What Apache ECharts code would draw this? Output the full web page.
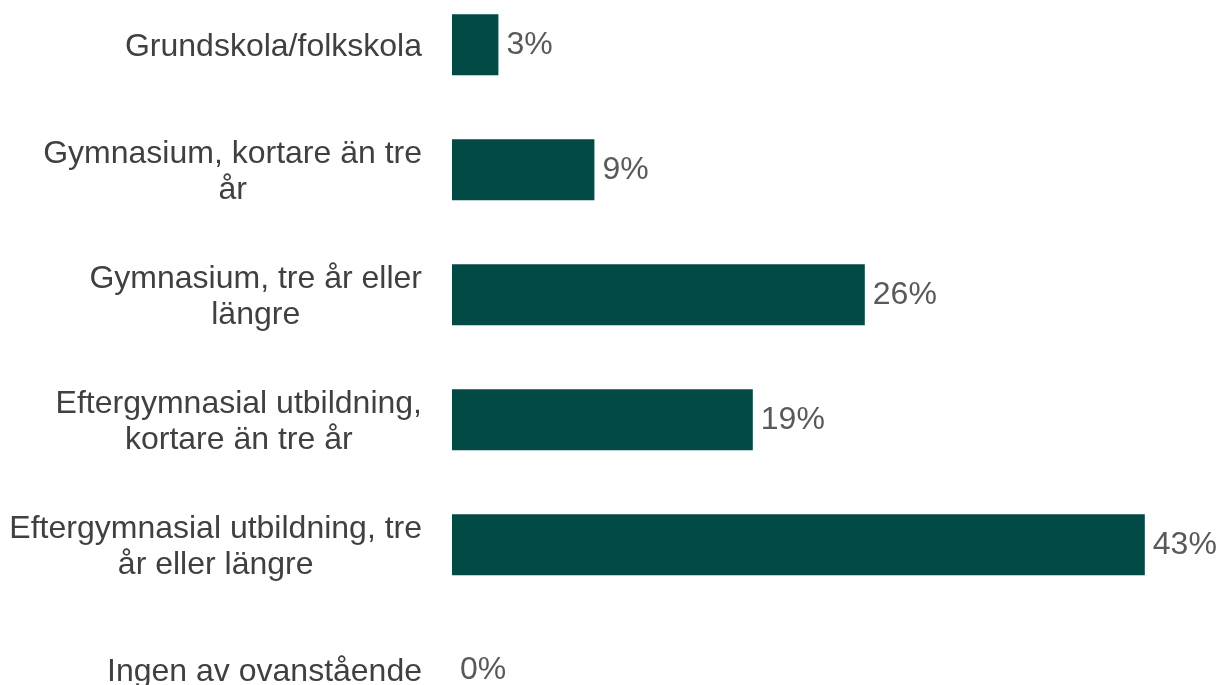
<!DOCTYPE html>
<html>
<head>
<meta charset="utf-8">
<script src="https://cdn.jsdelivr.net/npm/echarts@6/dist/echarts.min.js"></script>
<style>
  html, body { margin: 0; padding: 0; background: #fff; }
  #chart { width: 1222px; height: 685px; }
</style>
</head>
<body>
<div id="chart"></div>
<script>
// utbildningsnivå (kategorier uppifrån och ned)
const categories = [
  "Grundskola/folkskola",
  "Gymnasium, kortare än tre\når",
  "Gymnasium, tre år eller\nlängre",
  "Eftergymnasial utbildning,\nkortare än tre år",
  "Eftergymnasial utbildning, tre\når eller längre",
  "Ingen av ovanstående"
];
// andel i procent (avlästa från stapellängd)
const values = [2.9, 8.9, 25.8, 18.8, 43.3, 0];

const chart = echarts.init(document.getElementById("chart"));

chart.setOption({
  animation: false,
  grid: {
    left: 452,
    width: 800,
    top: -17.7,
    height: 750,
    containLabel: false,
    outerBoundsMode: "none"
  },
  xAxis: {
    type: "value",
    min: 0,
    max: 50,
    show: false
  },
  yAxis: {
    type: "category",
    inverse: true,
    data: categories,
    axisLine: { show: false },
    axisTick: { show: false },
    splitLine: { show: false },
    axisLabel: {
      margin: 30,
      padding: [5, 0, 0, 0],
      fontFamily: "Liberation Sans, Arial, sans-serif",
      fontSize: 32,
      lineHeight: 36,
      color: "#404040",
      // centrera raderna inom etikettblocket
      formatter: function(v) {
        return v.split("\n").map(s => "{c|" + s + "}").join("\n");
      },
      rich: {
        c: {
          align: "center",
          fontFamily: "Liberation Sans, Arial, sans-serif",
          fontSize: 32,
          lineHeight: 36,
          color: "#404040"
        }
      }
    }
  },
  series: [
    {
      type: "bar",
      data: values,
      barWidth: 61,
      itemStyle: { color: "#014A46" },
      label: {
        show: true,
        position: "right",
        distance: 8,
        padding: [5, 0, 0, 0],
        fontFamily: "Liberation Sans, Arial, sans-serif",
        fontSize: 32,
        color: "#595959",
        formatter: p => Math.round(p.value) + "%"
      }
    }
  ]
});
</script>
</body>
</html>
